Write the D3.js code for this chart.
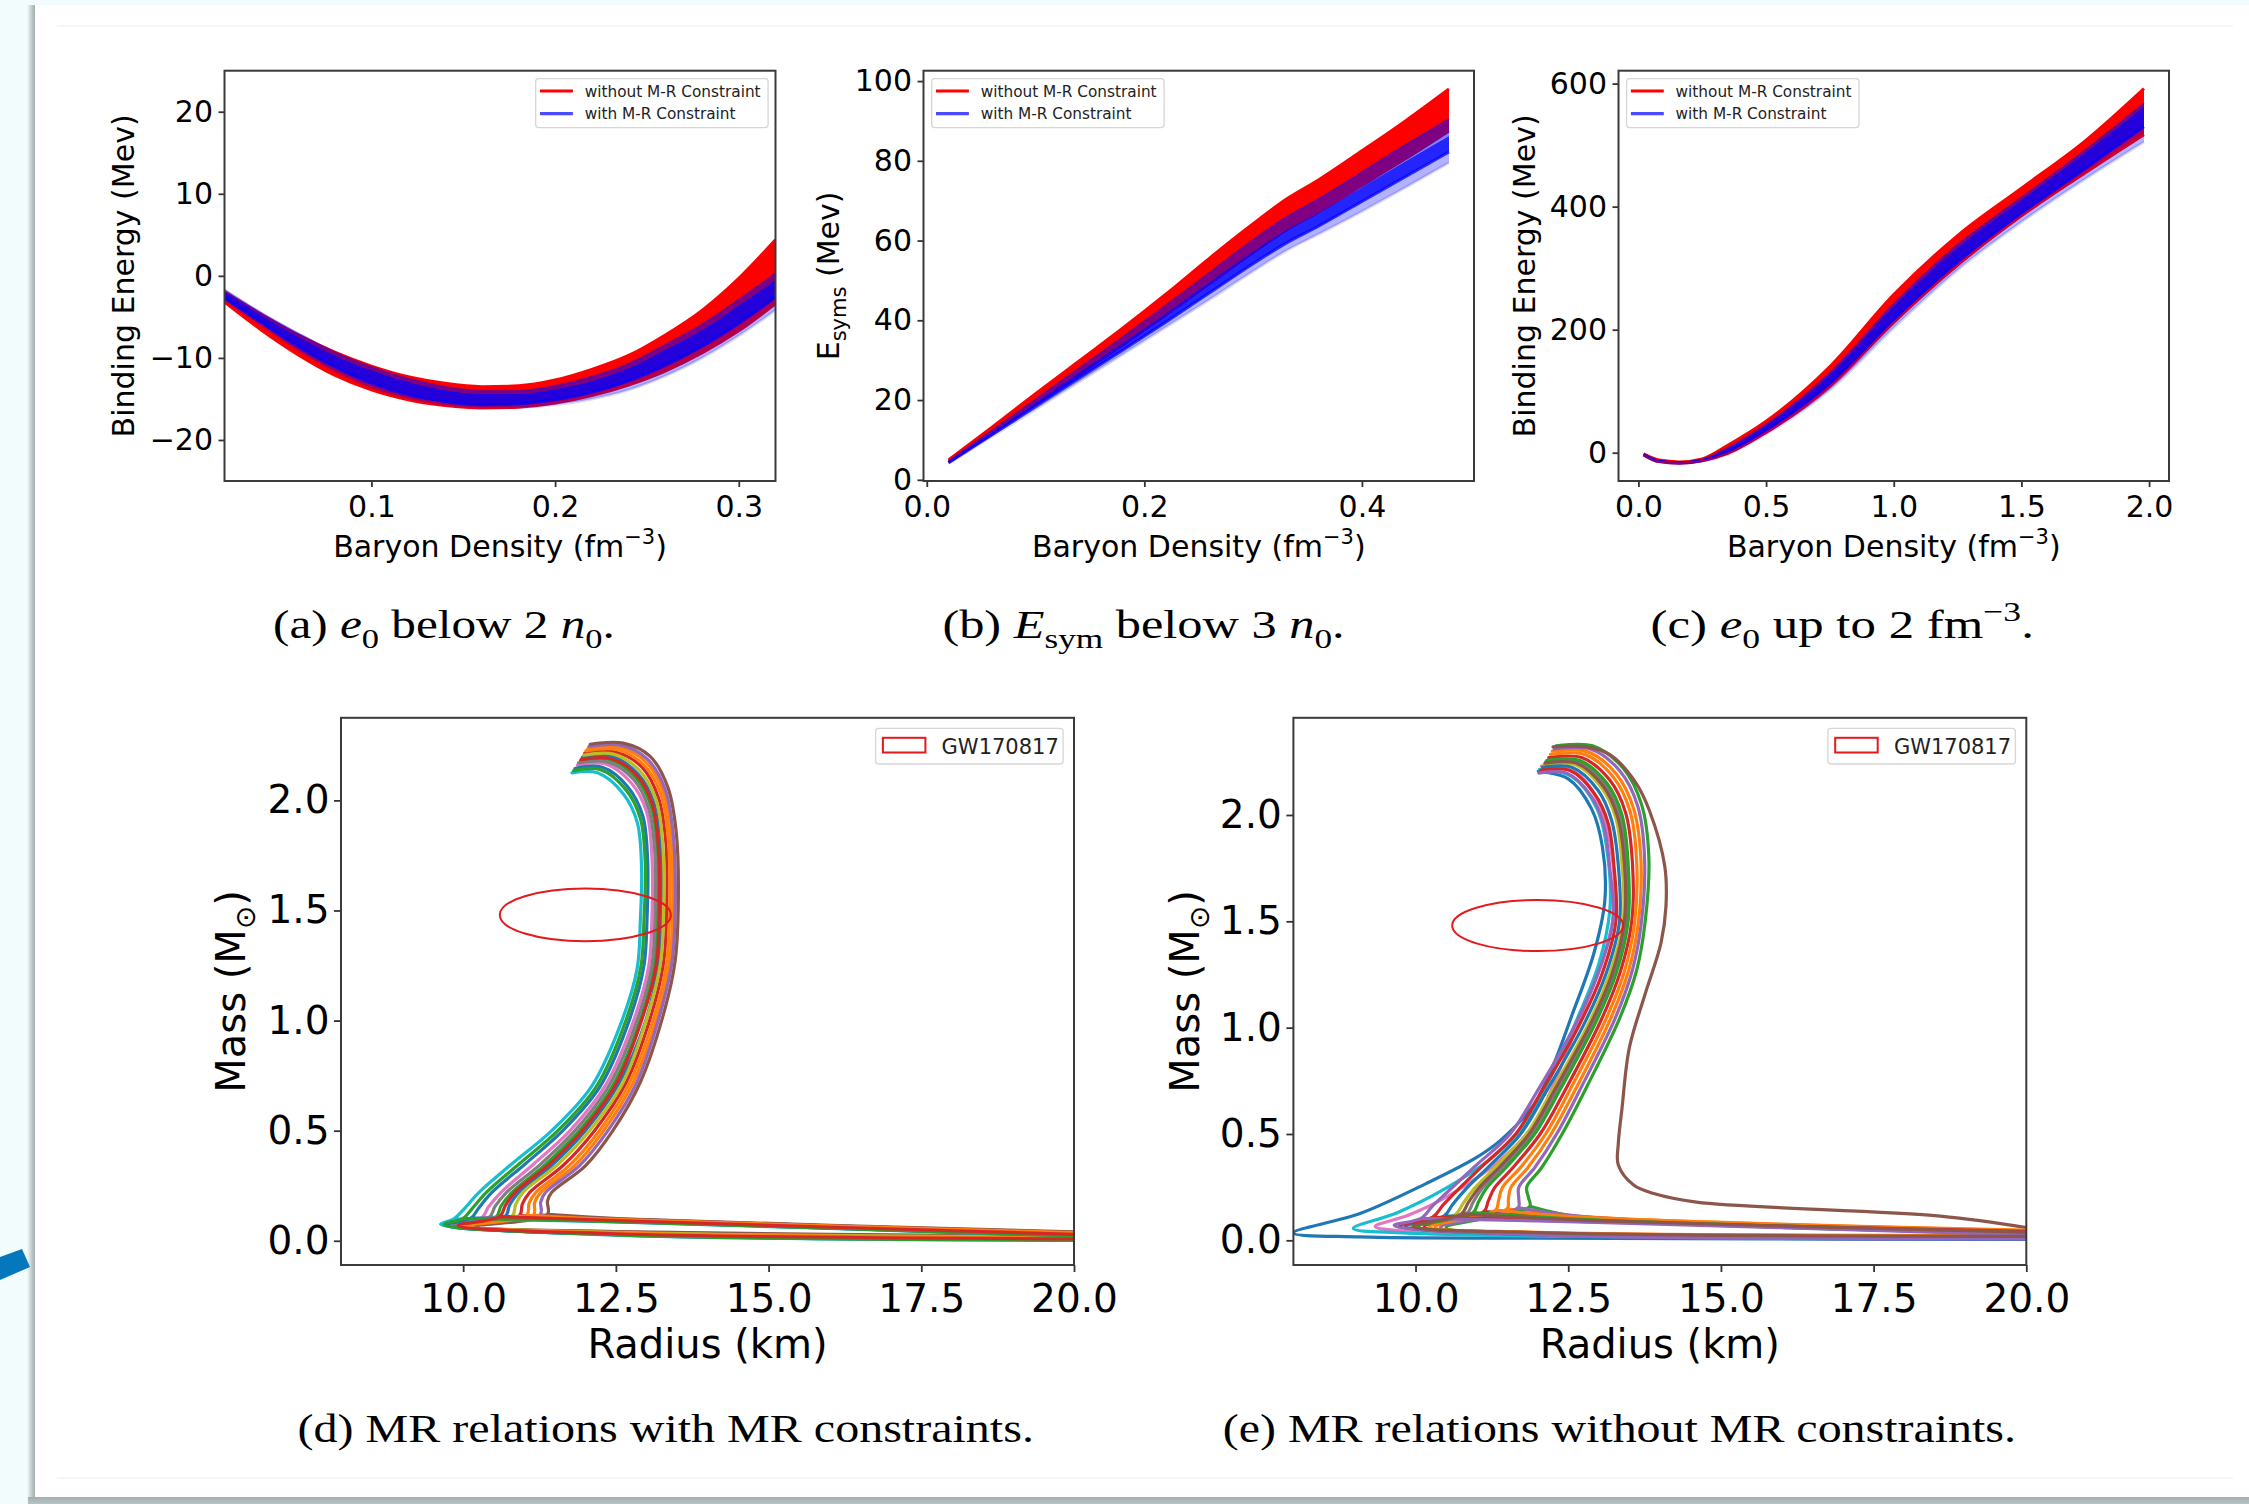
<!DOCTYPE html>
<html><head><meta charset="utf-8">
<script src="https://cdn.jsdelivr.net/npm/d3@7"></script>
<style>html,body{margin:0;padding:0;background:#f3fcfd;}svg{display:block;}</style>
</head><body>
<svg id="c" width="2249" height="1504"></svg>
<script>
// ---------------- DATA ----------------
// (a) binding energy below 2 n0
const densA = [0.02,0.04,0.06,0.08,0.10,0.12,0.14,0.16,0.18,0.20,0.22,0.24,0.26,0.28,0.30,0.32];
const redUpperA = [-2.0,-4.7,-7.2,-9.3,-11.0,-12.3,-13.1,-13.5,-13.4,-12.7,-11.4,-9.7,-7.2,-4.2,-0.3,4.4];
const redLowerA = [-3.2,-6.6,-9.6,-12.1,-13.9,-15.1,-15.8,-16.1,-16.0,-15.5,-14.6,-13.3,-11.6,-9.4,-6.7,-3.4];
const blueUpperA = [-1.7,-4.5,-7.0,-9.3,-11.1,-12.5,-13.5,-14.0,-14.0,-13.4,-12.3,-10.7,-8.4,-5.9,-2.9,0.3];
const blueDenseA = [-1.9,-4.8,-7.4,-9.7,-11.5,-12.9,-13.9,-14.4,-14.4,-13.8,-12.8,-11.2,-9.0,-6.6,-3.6,-0.5];
const blueCoreA = [-2.7,-5.7,-8.6,-11.1,-13.1,-14.5,-15.3,-15.7,-15.6,-15.1,-14.2,-12.8,-10.9,-8.6,-5.8,-2.6];
const blueLowerA = [-2.9,-6.0,-9.0,-11.6,-13.6,-14.9,-15.7,-16.0,-16.0,-15.7,-15.0,-13.9,-12.2,-10.0,-7.3,-4.2];

// (b) symmetry energy below 3 n0
const densB = [0.02,0.06,0.10,0.14,0.18,0.22,0.26,0.30,0.33,0.36,0.40,0.44,0.48];
const redUpperB = [5.0,13.2,21.6,29.8,38.0,46.6,55.6,64.2,70.3,75.2,82.5,90.0,98.0];
const redLowerB = [4.4,11.6,19.0,26.4,33.8,41.4,49.2,57.0,62.6,67.2,73.8,80.5,87.5];
const blueUpperB = [4.7,12.4,20.2,28.0,35.8,43.8,52.0,60.2,65.8,70.4,77.2,84.0,90.5];
const blueDenseB = [4.5,11.9,19.4,26.9,34.3,41.8,49.6,57.3,62.6,67.0,73.4,79.9,86.2];
const blueCoreB = [4.3,11.3,18.4,25.5,32.5,39.6,46.9,54.2,59.3,63.6,69.8,76.0,82.2];
const blueLowerB = [4.1,10.9,17.7,24.6,31.4,38.3,45.2,52.3,57.4,61.6,67.3,73.3,79.5];

// (c) binding energy up to 2 fm^-3
const densC = [0.02,0.08,0.16,0.25,0.35,0.5,0.75,1.0,1.25,1.5,1.75,1.98];
const redUpperC = [-2.0,-12.0,-15.0,-10.0,12.0,51.0,140.0,257.0,353.0,430.0,507.0,592.0];
const redLowerC = [-3.5,-14.5,-17.0,-13.0,-1.0,33.0,108.0,212.0,305.0,385.0,455.0,517.0];
const blueUpperC = [-2.3,-12.6,-15.6,-10.8,8.0,46.0,130.0,242.0,338.0,415.0,492.0,568.0];
const blueDenseC = [-2.4,-12.8,-15.8,-11.1,7.0,44.5,127.0,238.0,334.0,411.0,488.0,563.0];
const blueCoreC = [-3.1,-14.0,-16.7,-12.6,1.0,36.0,112.0,216.0,310.0,389.0,462.0,530.0];
const blueLowerC = [-3.6,-14.8,-17.6,-13.6,-2.5,30.0,102.0,203.0,297.0,375.0,445.0,505.0];

// (d) MR relations with MR constraints: [R (km), M (Msun)], null = pen up
const mrWith = [
 [[20,0.012],[12.5,0.035],[9.94,0.07],[10.69,0.111],[10.76,0.162],[10.91,0.22],[11.46,0.345],[12.0,0.5],[12.54,0.71],[12.99,1.0],[13.19,1.25],[13.24,1.477],[13.23,1.78],[13.12,1.99],[12.86,2.12],[12.43,2.2],[11.95,2.195],null,[10.69,0.111],[12.6,0.092],[20,0.03]],
 [[20,0.018],[12.5,0.04],[10.11,0.067],[11.15,0.117],[11.17,0.174],[11.27,0.22],[11.82,0.34],[12.3,0.5],[12.78,0.717],[13.2,1.04],[13.38,1.27],[13.43,1.49],[13.4,1.83],[13.28,2.035],[12.99,2.175],[12.56,2.24],[12.04,2.235],null,[11.15,0.117],[12.6,0.097],[20,0.038]],
 [[20,0.008],[12.5,0.03],[9.89,0.07],[10.54,0.109],[10.62,0.158],[10.8,0.22],[11.34,0.345],[11.9,0.5],[12.46,0.71],[12.92,1.02],[13.13,1.25],[13.18,1.47],[13.18,1.77],[13.08,1.97],[12.82,2.105],[12.39,2.186],[11.92,2.18],null,[10.54,0.109],[12.6,0.09],[20,0.026]],
 [[20,0.004],[12.5,0.028],[10.03,0.068],[10.92,0.114],[10.97,0.168],[11.09,0.22],[11.64,0.343],[12.15,0.5],[12.66,0.714],[13.09,1.035],[13.28,1.26],[13.33,1.485],[13.32,1.805],[13.2,2.01],[12.93,2.15],[12.49,2.22],[11.99,2.215],null,[10.92,0.114],[12.6,0.094],[20,0.033]],
 [[20,0.014],[12.5,0.038],[10.15,0.066],[11.26,0.118],[11.27,0.177],[11.35,0.22],[11.9,0.34],[12.37,0.5],[12.84,0.718],[13.24,1.046],[13.42,1.27],[13.47,1.495],[13.44,1.84],[13.31,2.047],[13.02,2.186],[12.59,2.25],[12.06,2.245],null,[11.26,0.118],[12.6,0.098],[20,0.036]],
 [[20,0.02],[12.5,0.042],[10.2,0.065],[11.38,0.12],[11.38,0.18],[11.45,0.22],[12.0,0.34],[12.45,0.5],[12.9,0.72],[13.3,1.05],[13.47,1.27],[13.52,1.5],[13.49,1.85],[13.35,2.06],[13.06,2.2],[12.62,2.26],[12.08,2.255],null,[11.38,0.12],[12.6,0.1],[20,0.04]],
 [[20,0.006],[12.5,0.03],[9.8,0.072],[10.31,0.106],[10.41,0.152],[10.62,0.22],[11.16,0.35],[11.75,0.5],[12.34,0.71],[12.81,1.015],[13.04,1.25],[13.09,1.465],[13.09,1.745],[13.0,1.95],[12.75,2.08],[12.33,2.165],[11.87,2.16],null,[10.31,0.106],[12.6,0.088],[20,0.024]],
 [[20,0.01],[12.5,0.033],[9.85,0.071],[10.43,0.108],[10.52,0.155],[10.71,0.22],[11.26,0.346],[11.83,0.5],[12.4,0.71],[12.87,1.02],[13.09,1.25],[13.14,1.47],[13.14,1.757],[13.04,1.96],[12.79,2.095],[12.36,2.175],[11.89,2.17],null,[10.43,0.108],[12.6,0.089],[20,0.028]],
 [[20,0.016],[12.5,0.038],[9.98,0.069],[10.8,0.112],[10.86,0.165],[10.98,0.22],[11.54,0.344],[12.07,0.5],[12.6,0.71],[13.03,1.03],[13.23,1.26],[13.28,1.48],[13.27,1.79],[13.16,2.0],[12.89,2.135],[12.46,2.21],[11.97,2.205],null,[10.8,0.112],[12.6,0.093],[20,0.034]],
 [[20,0.002],[12.5,0.026],[9.63,0.075],[9.85,0.1],[10.0,0.14],[10.26,0.22],[10.8,0.35],[11.45,0.5],[12.1,0.7],[12.6,1.0],[12.85,1.24],[12.9,1.45],[12.92,1.7],[12.85,1.9],[12.62,2.03],[12.2,2.125],[11.78,2.125],null,[9.85,0.1],[12.6,0.085],[20,0.02]],
 [[20,0.005],[12.5,0.028],[9.73,0.073],[10.13,0.104],[10.25,0.147],[10.47,0.22],[11.02,0.35],[11.63,0.5],[12.24,0.7],[12.73,1.01],[12.96,1.25],[13.01,1.46],[13.02,1.73],[12.94,1.93],[12.7,2.06],[12.28,2.15],[11.83,2.145],null,[10.13,0.104],[12.6,0.087],[20,0.022]],
 [[20,0.013],[12.5,0.036],[10.07,0.068],[11.04,0.116],[11.08,0.171],[11.19,0.22],[11.74,0.342],[12.23,0.5],[12.72,0.716],[13.15,1.04],[13.33,1.26],[13.38,1.49],[13.36,1.82],[13.24,2.025],[12.96,2.16],[12.53,2.23],[12.01,2.225],null,[11.04,0.116],[12.6,0.096],[20,0.037]],
 [[20,0.003],[12.5,0.027],[9.69,0.074],[10.0,0.102],[10.14,0.144],[10.38,0.22],[10.92,0.35],[11.55,0.5],[12.18,0.7],[12.67,1.005],[12.91,1.245],[12.96,1.455],[12.98,1.72],[12.9,1.92],[12.66,2.05],[12.24,2.14],[11.81,2.135],null,[10.0,0.102],[12.6,0.086],[20,0.021]],
 [[20,0.009],[12.5,0.032],[9.92,0.07],[10.6,0.11],[10.69,0.16],[10.85,0.22],[11.4,0.345],[11.95,0.5],[12.5,0.71],[12.95,1.025],[13.16,1.25],[13.21,1.475],[13.2,1.775],[13.1,1.98],[12.84,2.115],[12.41,2.19],[11.93,2.185],null,[10.6,0.11],[12.6,0.091],[20,0.029]]
];

// (e) MR relations without MR constraints
const mrWithout = [
 [[20,0.004],[12,0.01],[9.1,0.016],[8.0,0.035],[9.09,0.126],[10.18,0.268],[11.0,0.39],[11.39,0.47],[11.93,0.636],[12.25,0.82],[12.55,1.05],[12.92,1.35],[13.1,1.6],[13.06,1.85],[12.88,2.03],[12.5,2.17],[12.01,2.205]],
 [[20,0.02],[12,0.036],[10.32,0.062],[11.5,0.148],[11.52,0.192],[11.56,0.248],[11.84,0.342],[12.22,0.5],[12.63,0.716],[13.19,1.04],[13.49,1.27],[13.65,1.5],[13.69,1.79],[13.57,2.03],[13.29,2.192],[12.81,2.298],[12.24,2.3],null,[11.5,0.148],[12.8,0.11],[20,0.045]],
 [[20,0.012],[12,0.03],[10.5,0.06],[11.87,0.16],[11.85,0.2],[11.82,0.25],[12.06,0.34],[12.4,0.5],[12.8,0.72],[13.35,1.05],[13.62,1.27],[13.76,1.5],[13.82,1.8],[13.7,2.05],[13.4,2.22],[12.9,2.325],[12.3,2.325],null,[11.87,0.16],[12.8,0.105],[20,0.035]],
 [[20,0.016],[12,0.034],[10.14,0.064],[11.12,0.136],[11.19,0.184],[11.29,0.246],[11.6,0.344],[12.04,0.5],[12.46,0.712],[13.03,1.03],[13.35,1.26],[13.54,1.5],[13.55,1.78],[13.44,2.01],[13.18,2.164],[12.72,2.27],[12.18,2.27],null,[11.12,0.136],[12.8,0.1],[20,0.04]],
 [[20,0.01],[12,0.028],[10.41,0.061],[11.68,0.154],[11.69,0.196],[11.69,0.249],[11.95,0.341],[12.31,0.5],[12.71,0.718],[13.27,1.045],[13.55,1.27],[13.7,1.5],[13.75,1.795],[13.64,2.04],[13.35,2.206],[12.86,2.31],[12.27,2.31],null,[11.68,0.154],[12.8,0.11],[20,0.03]],
 [[20,0.06],[18.59,0.114],[14.6,0.18],[13.9,0.22],[13.57,0.26],[13.32,0.354],[13.32,0.456],[13.38,0.62],[13.5,0.905],[13.75,1.15],[14.02,1.4],[14.1,1.57],[14.08,1.76],[13.83,2.02],[13.61,2.15],[13.2,2.28],[12.8,2.32],[12.25,2.32]],
 [[20,0.014],[12,0.024],[10,0.04],[9.34,0.065],[9.9,0.12],[10.6,0.22],[11.4,0.38],[11.95,0.55],[12.3,0.76],[12.66,1.02],[13.07,1.32],[13.25,1.55],[13.22,1.8],[13.03,2.04],[12.62,2.2],[12.06,2.23]],
 [[20,0.008],[12,0.027],[10.0,0.066],[10.84,0.127],[10.94,0.178],[11.09,0.245],[11.43,0.345],[11.9,0.5],[12.32,0.709],[12.91,1.022],[13.25,1.26],[13.45,1.5],[13.45,1.772],[13.34,1.995],[13.1,2.143],[12.65,2.25],[12.13,2.25],null,[10.84,0.127],[12.8,0.095],[20,0.032]],
 [[20,0.018],[12,0.035],[9.92,0.067],[10.65,0.121],[10.78,0.174],[10.96,0.243],[11.32,0.347],[11.82,0.5],[12.24,0.707],[12.83,1.017],[13.18,1.255],[13.4,1.5],[13.38,1.767],[13.28,1.985],[13.04,2.13],[12.61,2.237],[12.1,2.237],null,[10.65,0.121],[12.8,0.092],[20,0.038]],
 [[20,0.009],[12,0.02],[9.8,0.035],[8.98,0.056],[9.7,0.13],[10.5,0.245],[11.3,0.4],[11.82,0.56],[12.2,0.76],[12.6,1.01],[13.0,1.3],[13.18,1.55],[13.15,1.8],[12.97,2.03],[12.56,2.18],[12.03,2.215]],
 [[20,0.006],[12,0.025],[9.83,0.068],[10.47,0.115],[10.61,0.17],[10.83,0.243],[11.2,0.347],[11.72,0.5],[12.15,0.705],[12.75,1.012],[13.12,1.255],[13.34,1.5],[13.32,1.762],[13.21,1.975],[12.99,2.115],[12.56,2.224],[12.08,2.224],null,[10.47,0.115],[12.8,0.09],[20,0.028]],
 [[20,0.022],[12,0.038],[10.23,0.063],[11.31,0.142],[11.36,0.188],[11.42,0.247],[11.72,0.343],[12.13,0.5],[12.54,0.714],[13.11,1.035],[13.42,1.265],[13.59,1.5],[13.62,1.785],[13.51,2.02],[13.24,2.178],[12.77,2.285],[12.21,2.285],null,[11.31,0.142],[12.8,0.108],[20,0.048]],
 [[20,0.011],[12,0.03],[10.05,0.065],[10.94,0.13],[11.03,0.18],[11.16,0.245],[11.49,0.345],[11.95,0.5],[12.37,0.71],[12.95,1.025],[13.29,1.26],[13.48,1.5],[13.48,1.775],[13.38,2.0],[13.13,2.15],[12.68,2.257],[12.15,2.257],null,[10.94,0.13],[12.8,0.098],[20,0.036]],
 [[20,0.015],[12,0.03],[9.74,0.068],[10.28,0.109],[10.45,0.166],[10.7,0.24],[11.09,0.348],[11.64,0.5],[12.07,0.703],[12.67,1.007],[13.05,1.25],[13.28,1.5],[13.25,1.757],[13.15,1.965],[12.93,2.1],[12.52,2.21],[12.05,2.21],null,[10.28,0.109],[12.8,0.088],[20,0.042]],
 [[20,0.007],[12,0.026],[9.65,0.07],[10.09,0.103],[10.28,0.162],[10.57,0.24],[10.98,0.35],[11.55,0.5],[11.99,0.7],[12.59,1.0],[12.98,1.25],[13.23,1.5],[13.18,1.752],[13.08,1.955],[12.88,2.087],[12.47,2.197],[12.02,2.197],null,[10.09,0.103],[12.8,0.086],[20,0.025]],
 [[20,0.019],[12,0.036],[9.96,0.066],[10.75,0.124],[10.86,0.176],[11.03,0.244],[11.38,0.346],[11.86,0.5],[12.28,0.708],[12.87,1.02],[13.22,1.255],[13.42,1.5],[13.42,1.77],[13.31,1.99],[13.07,2.136],[12.63,2.244],[12.12,2.244],null,[10.75,0.124],[12.8,0.094],[20,0.039]]
];

// GW170817 constraint ellipse: centre R, centre M, half-width R, half-height M
const gwEllipse = [12.0, 1.48, 1.4, 0.12];

// tick values
const ticksAx = [0.1,0.2,0.3], ticksAy = [-20,-10,0,10,20];
const ticksBx = [0.0,0.2,0.4], ticksBy = [0,20,40,60,80,100];
const ticksCx = [0.0,0.5,1.0,1.5,2.0], ticksCy = [0,200,400,600];
const ticksMRx = [10.0,12.5,15.0,17.5,20.0];
const ticksMRy = [0.0,0.5,1.0,1.5,2.0];

const legendTop = ["without M-R Constraint","with M-R Constraint"];
const legendMR = "GW170817";

// ---------------- DRAWING ----------------
const W = 2249, H = 1504;
const svg = d3.select('#c');
const defs = svg.append('defs');
const gl = defs.append('linearGradient').attr('id','shL').attr('x1','0').attr('x2','1').attr('y1','0').attr('y2','0');
gl.append('stop').attr('offset','0').attr('stop-color','#f3fcfd');
gl.append('stop').attr('offset','0.6').attr('stop-color','#b9c3c3');
gl.append('stop').attr('offset','1').attr('stop-color','#9aa6a6');
const gb = defs.append('linearGradient').attr('id','shB').attr('x1','0').attr('x2','0').attr('y1','0').attr('y2','1');
gb.append('stop').attr('offset','0').attr('stop-color','#a3afaf');
gb.append('stop').attr('offset','1').attr('stop-color','#b8c4c4');

svg.append('rect').attr('width',W).attr('height',H).attr('fill','#f3fcfd');
svg.append('rect').attr('x',27).attr('y',5).attr('width',9).attr('height',H-5).attr('fill','url(#shL)');
svg.append('rect').attr('x',28).attr('y',1497).attr('width',W-28).attr('height',7).attr('fill','url(#shB)');
svg.append('rect').attr('x',35).attr('y',5).attr('width',W-35).attr('height',1492).attr('fill','#ffffff');
svg.append('line').attr('x1',57).attr('x2',2233).attr('y1',26).attr('y2',26).attr('stroke','#eceff0').attr('stroke-width',1.2);
svg.append('line').attr('x1',57).attr('x2',2233).attr('y1',1478).attr('y2',1478).attr('stroke','#eceff0').attr('stroke-width',1.2);
svg.append('polygon').attr('points','0,1257 22,1249 30,1267 0,1280').attr('fill','#0577bd');

const SANS = 'DejaVu Sans', SERIF = 'Liberation Serif';
let clipId = 0;

function richText(g, parts, fs, family) {
  const t = g.append('text').attr('font-family', family).attr('font-size', fs).attr('fill','#000');
  let shift = 0;
  parts.forEach(p => {
    const s = t.append('tspan').text(p.t);
    const target = p.sub ? fs*0.24 : (p.sup ? -fs*0.42 : 0);
    if (target - shift !== 0) s.attr('dy', target - shift);
    shift = target;
    if (p.sub || p.sup) s.attr('font-size', fs*0.7);
    if (p.it) s.attr('font-style','italic');
  });
  return t;
}

function axesFrame(g, x, y, o) {
  const [x0,x1] = x.range(); const [yb,yt] = y.range();
  const gx = g.append('g').attr('transform',`translate(0,${yb})`)
    .call(d3.axisBottom(x).tickValues(o.xt).tickFormat(d3.format(o.xf)).tickSize(o.ts).tickPadding(o.xp));
  const gy = g.append('g').attr('transform',`translate(${x0},0)`)
    .call(d3.axisLeft(y).tickValues(o.yt).tickFormat(d3.format(o.yf)).tickSize(o.ts).tickPadding(o.yp));
  [gx,gy].forEach(a => {
    a.attr('font-family', SANS).attr('font-size', o.fs);
    a.select('.domain').remove();
    a.selectAll('line').attr('stroke','#333').attr('stroke-width',1.8);
    a.selectAll('text').attr('fill','#000');
  });
  g.append('rect').attr('x',x0).attr('y',yt).attr('width',x1-x0).attr('height',yb-yt)
    .attr('fill','none').attr('stroke','#3a3a3a').attr('stroke-width',2);
}

function plotGroup(x, y) {
  const id = 'clip' + (clipId++);
  const [x0,x1] = x.range(); const [yb,yt] = y.range();
  defs.append('clipPath').attr('id',id).append('rect').attr('x',x0).attr('y',yt).attr('width',x1-x0).attr('height',yb-yt);
  return svg.append('g').attr('clip-path',`url(#${id})`);
}

function bandPanel(p) {
  const x = d3.scaleLinear().domain(p.xd).range([p.x0,p.x1]);
  const y = d3.scaleLinear().domain(p.yd).range([481,70.7]);
  const pg = plotGroup(x, y);
  const area = (up, lo) => d3.area().x((d,i)=>x(p.dens[i])).y0((d,i)=>y(lo[i])).y1((d,i)=>y(up[i])).curve(d3.curveMonotoneX)(p.dens);
  const line = (arr) => d3.line().x((d,i)=>x(p.dens[i])).y((d,i)=>y(arr[i])).curve(d3.curveMonotoneX)(p.dens);
  const stroke = (arr, col, w, op) => pg.append('path').attr('d', line(arr)).attr('fill','none')
    .attr('stroke',col).attr('stroke-width',w).attr('opacity',op);
  pg.append('path').attr('d', area(p.rU, p.rL)).attr('fill','#ff0000');
  stroke(p.rU, '#ff0000', 3, 1);
  stroke(p.rL, '#ff0000', 3, 1);
  pg.append('path').attr('d', area(p.bC, p.bL)).attr('fill','#0000ff').attr('opacity',0.3);
  pg.append('path').attr('d', area(p.bU, p.bD)).attr('fill','#0000ff').attr('opacity',0.5);
  pg.append('path').attr('d', area(p.bD, p.bC)).attr('fill','#0000ff').attr('opacity',0.86);
  stroke(p.bU, '#3300cc', 2, 0.5);
  stroke(p.bC, '#0000ff', 3, 0.75);
  stroke(p.bL, '#0000ff', 3, 0.15);
  if (p.redThrough) stroke(p.rL, '#ff0000', 1.6, 0.55);

  const g = svg.append('g');
  axesFrame(g, x, y, {xt:p.xt, yt:p.yt, xf:p.xf, yf:p.yf, ts:6, xp:8.3, yp:5.5, fs:30});
  richText(g, [{t:'Baryon Density (fm'},{t:'−3',sup:true},{t:')'}], 30, SANS)
    .attr('x',(p.x0+p.x1)/2).attr('y',556.5).attr('text-anchor','middle');
  richText(g, p.ylab, 30, SANS).attr('text-anchor','middle')
    .attr('transform',`translate(${p.ylx},275.9) rotate(-90)`);
  const L = p.leg;
  g.append('rect').attr('x',L).attr('y',78.7).attr('width',232.4).attr('height',48.9).attr('rx',3)
    .attr('fill','#fff').attr('fill-opacity',0.85).attr('stroke','#d6d6d6').attr('stroke-width',1.3);
  [['#ff0000',91,1],['#0000ff',113.7,0.7]].forEach((s,i) => {
    g.append('line').attr('x1',L+4.3).attr('x2',L+37.2).attr('y1',s[1]).attr('y2',s[1])
      .attr('stroke',s[0]).attr('stroke-width',3.2).attr('opacity',s[2]);
    g.append('text').attr('x',L+49).attr('y',s[1]+5.5).attr('font-family',SANS).attr('font-size',15.3)
      .attr('fill','#222').text(legendTop[i]);
  });
}

bandPanel({dens:densA, rU:redUpperA, rL:redLowerA, bU:blueUpperA, bD:blueDenseA, bC:blueCoreA, bL:blueLowerA,
  x0:224.5, x1:775.5, xd:[0.02,0.32], yd:[-25,25], xt:ticksAx, yt:ticksAy, xf:'.1f', yf:'d',
  ylab:[{t:'Binding Energy (Mev)'}], ylx:133.5, leg:535.7});
bandPanel({dens:densB, rU:redUpperB, rL:redLowerB, bU:blueUpperB, bD:blueDenseB, bC:blueCoreB, bL:blueLowerB,
  x0:923.5, x1:1474, xd:[-0.003,0.503], yd:[-0.3,102.6], xt:ticksBx, yt:ticksBy, xf:'.1f', yf:'d',
  ylab:[{t:'E'},{t:'syms',sub:true},{t:' (Mev)'}], ylx:839, leg:931.7});
bandPanel({dens:densC, rU:redUpperC, rL:redLowerC, bU:blueUpperC, bD:blueDenseC, bC:blueCoreC, bL:blueLowerC,
  x0:1618.5, x1:2169, xd:[-0.078,2.078], yd:[-46,621], xt:ticksCx, yt:ticksCy, xf:'.1f', yf:'d',
  ylab:[{t:'Binding Energy (Mev)'}], ylx:1535, leg:1626.6, redThrough:true});

function mrPanel(p) {
  const x = d3.scaleLinear().domain([8,20]).range([p.x0,p.x1]);
  const y = d3.scaleLinear().domain(p.yd).range([1265,717.8]);
  const pg = plotGroup(x, y);
  const line = d3.line().defined(d => d !== null).x(d => x(d[0])).y(d => y(d[1])).curve(d3.curveCatmullRom.alpha(0.5));
  p.curves.forEach((c,i) => pg.append('path').attr('d', line(c)).attr('fill','none')
    .attr('stroke', d3.schemeCategory10[i % 10]).attr('stroke-width',3.2).attr('stroke-linejoin','round').attr('stroke-linecap','round'));
  const [cR, cM, hR, hM] = gwEllipse;
  pg.append('ellipse').attr('cx',x(cR)).attr('cy',y(cM)).attr('rx',x(cR+hR)-x(cR)).attr('ry',y(cM-hM)-y(cM))
    .attr('fill','none').attr('stroke','#e3191c').attr('stroke-width',2);

  const g = svg.append('g');
  axesFrame(g, x, y, {xt:ticksMRx, yt:ticksMRy, xf:'.1f', yf:'.1f', ts:7, xp:12, yp:4.5, fs:39});
  richText(g, [{t:'Radius (km)'}], 40, SANS).attr('x',(p.x0+p.x1)/2).attr('y',1358).attr('text-anchor','middle');
  richText(g, [{t:'Mass (M'},{t:'⊙',sub:true},{t:')'}], 40, SANS).attr('text-anchor','middle')
    .attr('transform',`translate(${p.ylx},991.4) rotate(-90)`);
  const L = p.leg;
  g.append('rect').attr('x',L).attr('y',728.3).attr('width',187.5).attr('height',35.7).attr('rx',3)
    .attr('fill','#fff').attr('fill-opacity',0.85).attr('stroke','#d6d6d6').attr('stroke-width',1.3);
  g.append('rect').attr('x',L+7.3).attr('y',737.8).attr('width',42.5).attr('height',14.7)
    .attr('fill','none').attr('stroke','#e3191c').attr('stroke-width',2);
  g.append('text').attr('x',L+66).attr('y',753.5).attr('font-family',SANS).attr('font-size',21)
    .attr('fill','#222').text(legendMR);
}

mrPanel({curves:mrWith, x0:341, x1:1074, yd:[-0.11,2.375], ylx:245, leg:875.6});
mrPanel({curves:mrWithout, x0:1293.4, x1:2026.3, yd:[-0.116,2.457], ylx:1199, leg:1827.9});

// captions
function caption(parts, xl, xr, base) {
  const g = svg.append('g');
  const t = richText(g, parts, 40, SERIF).attr('x',0).attr('y',0);
  const w = t.node().getComputedTextLength();
  g.attr('transform',`translate(${xl},${base}) scale(${(xr-xl)/w},1)`);
}
caption([{t:'(a) '},{t:'e',it:true},{t:'0',sub:true},{t:' below 2 '},{t:'n',it:true},{t:'0',sub:true},{t:'.'}], 273, 615, 638);
caption([{t:'(b) '},{t:'E',it:true},{t:'sym',sub:true},{t:' below 3 '},{t:'n',it:true},{t:'0',sub:true},{t:'.'}], 942.4, 1344.7, 638);
caption([{t:'(c) '},{t:'e',it:true},{t:'0',sub:true},{t:' up to 2 fm'},{t:'−3',sup:true},{t:'.'}], 1650.5, 2034, 638);
caption([{t:'(d) MR relations with MR constraints.'}], 297.6, 1034.2, 1442);
caption([{t:'(e) MR relations without MR constraints.'}], 1222.8, 2016.3, 1442);
</script>
</body></html>
